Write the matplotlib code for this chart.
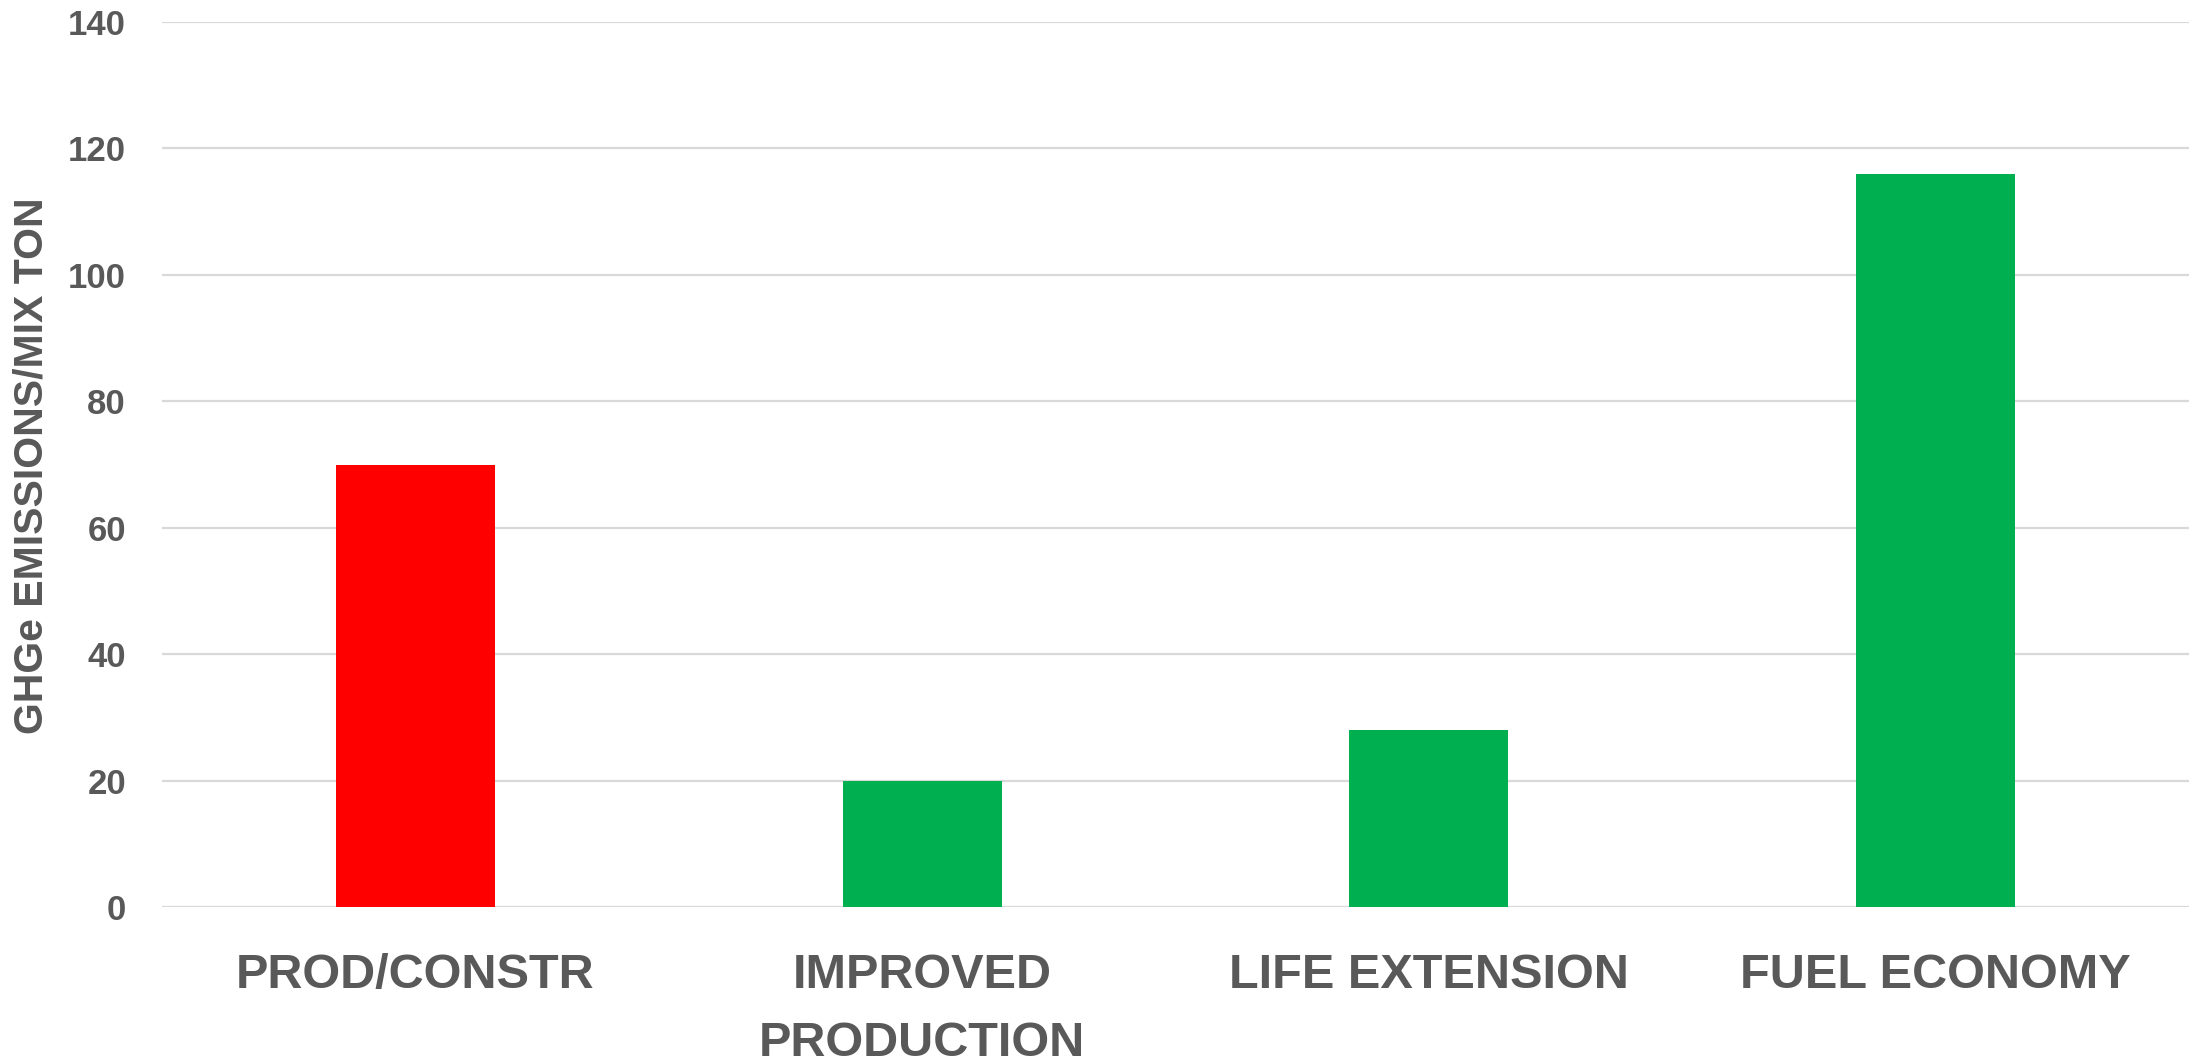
import matplotlib
matplotlib.use("Agg")
import matplotlib.pyplot as plt
import numpy as np

# Chart data
categories = ["PROD/CONSTR", "IMPROVED\nPRODUCTION", "LIFE EXTENSION", "FUEL ECONOMY"]
values = [70, 20, 28, 116]
bar_colors = ["#FF0000", "#00B050", "#00B050", "#00B050"]
y_ticks = [0, 20, 40, 60, 80, 100, 120, 140]

TEXT = "#595959"
GRID = "#D9D9D9"

plt.rcParams['font.family'] = ['Liberation Sans', 'DejaVu Sans']

fig = plt.figure(figsize=(22.01, 10.61), dpi=100)
ax = fig.add_axes([162 / 2201, 154 / 1061, (2189 - 162) / 2201, (907 - 22) / 1061])

x = np.arange(len(categories))
ax.bar(x, values, width=0.314, color=bar_colors, zorder=3)

ax.set_xlim(-0.5, len(categories) - 0.5)
ax.set_ylim(0, 140)
ax.set_yticks(y_ticks)
ax.yaxis.grid(True, color=GRID, linewidth=1.6, zorder=0)
ax.set_axisbelow(True)

for s in ax.spines.values():
    s.set_visible(False)

ax.set_xticks(x)
ax.set_xticklabels(categories, fontsize=35, fontweight='bold', color=TEXT,
                   linespacing=1.65, va='top')
ax.tick_params(axis='x', length=0, pad=33)
ax.tick_params(axis='y', length=0, pad=26, labelsize=25, labelcolor=TEXT)
for lab in ax.get_yticklabels():
    lab.set_fontweight('bold')

fig.text(32 / 2201, 1 - 466 / 1061, "GHGe EMISSIONS/MIX TON", rotation=90,
         ha='center', va='center', fontsize=29.5, fontweight='bold', color=TEXT)

fig.savefig("out.png", dpi=100, facecolor="white")
